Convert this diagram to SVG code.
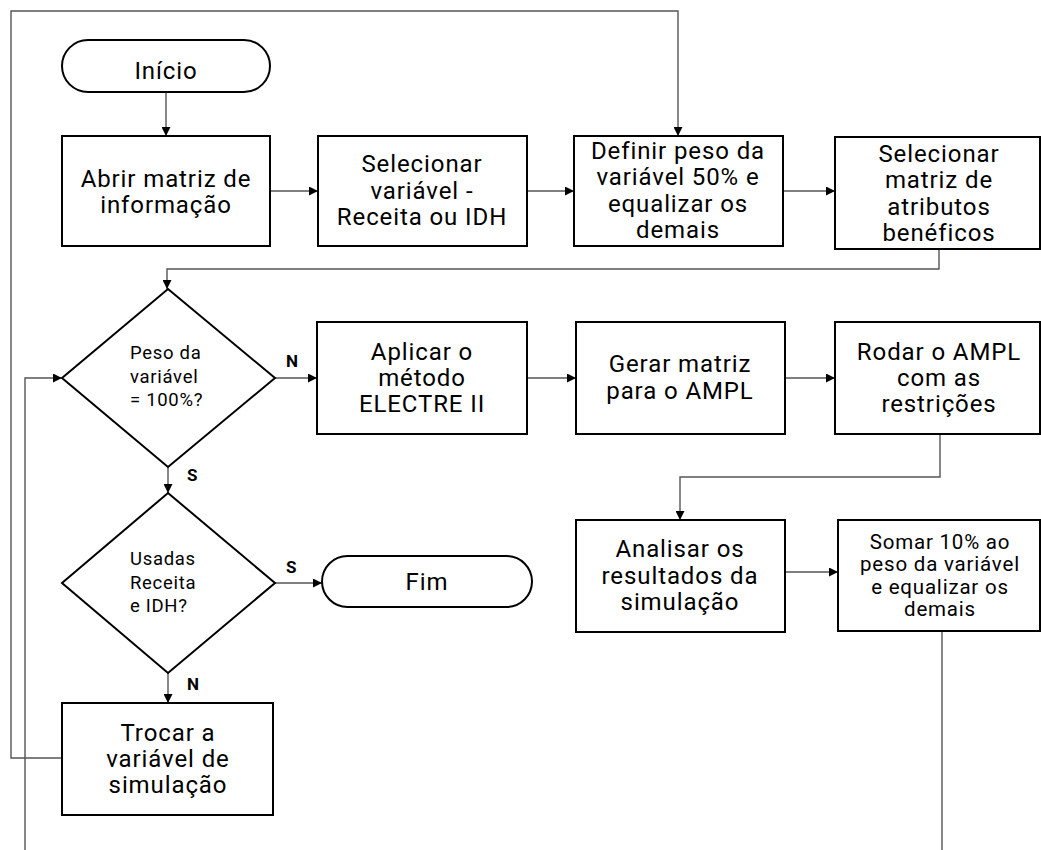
<svg xmlns="http://www.w3.org/2000/svg" width="1041" height="850" viewBox="0 0 1041 850">
<style>
.box{fill:#fff;stroke:#000;stroke-width:2}
.t{font-family:Roboto,"Open Sans","DejaVu Sans",sans-serif;font-size:24px;letter-spacing:0.9px;fill:#000;text-anchor:middle}
.s{font-family:Roboto,"Open Sans","DejaVu Sans",sans-serif;font-size:20.5px;letter-spacing:0.8px;fill:#000;text-anchor:middle}
.d{font-family:Roboto,"Open Sans","DejaVu Sans",sans-serif;font-size:18.5px;letter-spacing:0.7px;fill:#000}
.l{font-family:Roboto,"Open Sans","DejaVu Sans",sans-serif;font-size:17px;font-weight:bold;fill:#000}
.c{fill:none;stroke:#555;stroke-width:1.4}
.ca{fill:none;stroke:#555;stroke-width:1.4;marker-end:url(#ah)}
</style>
<defs>
<marker id="ah" viewBox="0 0 10 10" refX="10" refY="5" markerWidth="9" markerHeight="9" markerUnits="userSpaceOnUse" orient="auto"><path d="M0,0 L10,5 L0,10 z" fill="#000"/></marker>
</defs>
<rect width="1041" height="850" fill="#fff"/>
<g id="connectors">
<path class="ca" d="M166,92 V136"/>
<path class="ca" d="M270,191 H318"/>
<path class="ca" d="M527,191 H574"/>
<path class="ca" d="M783,191 H835"/>
<path class="ca" d="M939,249 V269 H167 V289"/>
<path class="ca" d="M275,378 H317"/>
<path class="ca" d="M527,378 H576"/>
<path class="ca" d="M785,378 H835"/>
<path class="ca" d="M940,434 V477 H680 V520"/>
<path class="ca" d="M785,572 H838"/>
<path class="c" d="M942,631 V850"/>
<path class="ca" d="M25,850 V378 H62"/>
<path class="ca" d="M168,467 V493"/>
<path class="ca" d="M275,583 H322"/>
<path class="ca" d="M168,673 V703"/>
<path class="ca" d="M62,758 H11 V11 H678 V136"/>
</g>
<g id="inicio">
<rect class="box" x="62" y="40" width="208" height="52" rx="26"/>
<text class="t" x="166" y="79">Início</text>
</g>
<g id="abrir">
<rect class="box" x="62" y="136" width="208" height="110"/>
<text class="t" x="166" y="187">Abrir matriz de<tspan x="166" dy="26">informação</tspan></text>
</g>
<g id="selecionar-variavel">
<rect class="box" x="318" y="136" width="209" height="110"/>
<text class="t" x="422" y="172">Selecionar<tspan x="422" dy="26.5">variável -</tspan><tspan x="422" dy="26.5">Receita ou IDH</tspan></text>
</g>
<g id="definir">
<rect class="box" x="574" y="136" width="209" height="110"/>
<text class="t" x="678" y="159">Definir peso da<tspan x="678" dy="26.3">variável 50% e</tspan><tspan x="678" dy="26.3">equalizar os</tspan><tspan x="678" dy="26.3">demais</tspan></text>
</g>
<g id="selecionar-matriz">
<rect class="box" x="835" y="137" width="205" height="112"/>
<text class="t" x="939" y="162">Selecionar<tspan x="939" dy="26.3">matriz de</tspan><tspan x="939" dy="26.3">atributos</tspan><tspan x="939" dy="26.3">benéficos</tspan></text>
</g>
<g id="peso-decisao">
<polygon class="box" points="168,289 275,378 168,467 62,378"/>
<text class="d" x="130" y="359">Peso da<tspan x="130" dy="23.5">variável</tspan><tspan x="130" dy="23.5">= 100%?</tspan></text>
</g>
<g id="aplicar">
<rect class="box" x="317" y="322" width="210" height="112"/>
<text class="t" x="422" y="360">Aplicar o<tspan x="422" dy="26">método</tspan><tspan x="422" dy="26">ELECTRE II</tspan></text>
</g>
<g id="gerar">
<rect class="box" x="576" y="322" width="209" height="112"/>
<text class="t" x="680" y="372">Gerar matriz<tspan x="680" dy="26.5">para o AMPL</tspan></text>
</g>
<g id="rodar">
<rect class="box" x="835" y="322" width="205" height="112"/>
<text class="t" x="939" y="360">Rodar o AMPL<tspan x="939" dy="26">com as</tspan><tspan x="939" dy="26">restrições</tspan></text>
</g>
<g id="usadas-decisao">
<polygon class="box" points="168,493 275,583 168,673 62,583"/>
<text class="d" x="130" y="565">Usadas<tspan x="130" dy="23.5">Receita</tspan><tspan x="130" dy="23.5">e IDH?</tspan></text>
</g>
<g id="fim">
<rect class="box" x="322" y="556" width="210" height="51" rx="25.5"/>
<text class="t" x="427" y="590">Fim</text>
</g>
<g id="analisar">
<rect class="box" x="576" y="520" width="209" height="112"/>
<text class="t" x="680" y="557">Analisar os<tspan x="680" dy="26.5">resultados da</tspan><tspan x="680" dy="26.5">simulação</tspan></text>
</g>
<g id="somar">
<rect class="box" x="838" y="520" width="202" height="111"/>
<text class="s" x="940" y="549">Somar 10% ao<tspan x="940" dy="22.3">peso da variável</tspan><tspan x="940" dy="22.3">e equalizar os</tspan><tspan x="940" dy="22.3">demais</tspan></text>
</g>
<g id="trocar">
<rect class="box" x="62" y="703" width="211" height="112"/>
<text class="t" x="168" y="741">Trocar a<tspan x="168" dy="26">variável de</tspan><tspan x="168" dy="26">simulação</tspan></text>
</g>
<g id="labels">
<text class="l" x="286" y="367">N</text>
<text class="l" x="187" y="481">S</text>
<text class="l" x="286" y="573">S</text>
<text class="l" x="187" y="690">N</text>
</g>
</svg>
